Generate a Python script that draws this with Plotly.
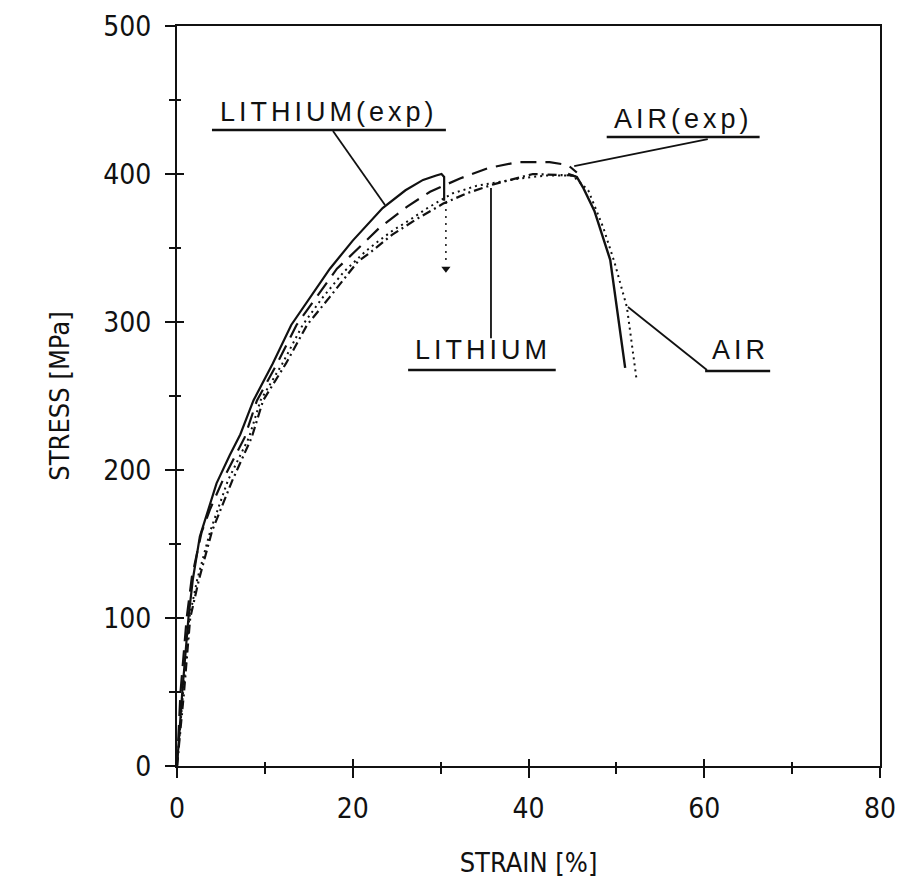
import plotly.graph_objects as go

# ---- data (strain %, stress MPa) ----
li_exp_strain = [0, 0.6, 1.3, 1.8, 2.6, 3.5, 4.5, 6.0, 7.2, 8.7, 10.9, 13.0, 15.1, 17.4, 20.0, 23.4, 26.0, 28.0, 29.5, 30.1, 30.4, 30.4]
li_exp_stress = [0, 50, 100, 126, 155, 172, 191, 210, 224, 247, 272, 298, 316, 336, 355, 377, 389, 396, 399, 400, 398, 382]

air_exp_strain = [0, 0.4, 1.1, 1.7, 2.8, 3.8, 5.2, 7.7, 9.1, 11.4, 13.6, 15.8, 18.2, 21.2, 23.1, 26.2, 28.8, 32.2, 35.4, 38.8, 42.4, 44.5, 45.5]
air_exp_stress = [0, 50, 100, 128, 158, 174, 193, 222, 247, 272, 298, 316, 336, 353, 364, 378, 388, 397, 404, 408, 408, 406, 401]

li_sim_strain = [0, 0.8, 1.5, 2.5, 4.0, 6.3, 8.5, 9.8, 12.4, 14.8, 17.4, 20.6, 22.0, 24.5, 27.4, 30.3, 33.0, 36.0, 40.5, 45.0, 45.5]
li_sim_stress = [0, 50, 100, 126, 159, 193, 222, 247, 272, 298, 317, 341, 347, 359, 370, 380, 387, 393, 400, 399, 398]

air_sim_strain = [0, 0.7, 1.4, 2.3, 3.8, 5.8, 8.2, 9.5, 12.0, 14.3, 16.5, 19.0, 21.5, 23.0, 24.6, 26.5, 28.5, 31.4, 34.1, 36.0, 39.0, 42.0, 45.0, 46.8, 48.5, 49.8, 51.2, 52.3]
air_sim_stress = [0, 50, 100, 126, 159, 193, 222, 247, 272, 298, 316, 334, 348, 355, 362, 369, 377, 387, 392, 394, 397, 399, 399, 389, 364, 340, 310, 261]

drop_strain = [44.5, 45.5, 46.2, 47.5, 49.3, 50.2, 51.0]
drop_stress = [400, 398, 391, 375, 342, 303, 269]

arrow_strain = [30.6, 30.6]
arrow_stress = [381, 340]

x_ticks = [0, 20, 40, 60, 80]
y_ticks = [0, 100, 200, 300, 400, 500]

# label texts and anchor points (data coords)
labels = [
    dict(text="LITHIUM(exp)", x=17.24, y=442, ul=(3.98, 30.6, 429.7), lead=((17.75, 429), (23.67, 379))),
    dict(text="AIR(exp)", x=57.64, y=437, ul=(48.9, 66.3, 425), lead=((60.4, 423.6), (45.2, 405.4))),
    dict(text="LITHIUM", x=34.77, y=281, ul=(26.3, 43.1, 267.6), lead=((35.73, 289), (35.73, 390.5))),
    dict(text="AIR", x=64.07, y=281, ul=(60.1, 67.5, 266.9), lead=((60.31, 267.6), (51.32, 310.1))),
]

BLACK = "#111111"
fig = go.Figure()

fig.add_trace(go.Scatter(x=li_exp_strain, y=li_exp_stress, mode="lines",
                         line=dict(color=BLACK, width=2.2), showlegend=False))
fig.add_trace(go.Scatter(x=air_exp_strain, y=air_exp_stress, mode="lines",
                         line=dict(color=BLACK, width=2.2, dash="16px,9px"), showlegend=False))
fig.add_trace(go.Scatter(x=li_sim_strain, y=li_sim_stress, mode="lines",
                         line=dict(color=BLACK, width=2.2, dash="9px,4px,2px,4px"), showlegend=False))
fig.add_trace(go.Scatter(x=air_sim_strain, y=air_sim_stress, mode="lines",
                         line=dict(color=BLACK, width=2, dash="2px,4px"), showlegend=False))
fig.add_trace(go.Scatter(x=drop_strain, y=drop_stress, mode="lines",
                         line=dict(color=BLACK, width=2.4), showlegend=False))
fig.add_trace(go.Scatter(x=arrow_strain, y=arrow_stress, mode="lines",
                         line=dict(color=BLACK, width=1.5, dash="2px,5px"), showlegend=False))
fig.add_trace(go.Scatter(x=[arrow_strain[-1]], y=[arrow_stress[-1] - 4], mode="markers",
                         marker=dict(symbol="triangle-down", size=8, color=BLACK), showlegend=False))
# empty trace to activate overlay axes (inner half of crossing ticks)
fig.add_trace(go.Scatter(x=[], y=[], xaxis="x2", yaxis="y2", showlegend=False))

label_font = dict(family="Liberation Sans, Arial, sans-serif", size=27, color=BLACK)
for lb in labels:
    fig.add_annotation(x=lb["x"], y=lb["y"], xref="x", yref="y", showarrow=False,
                       text='<span style="letter-spacing:4px">' + lb["text"] + "</span>",
                       font=label_font, xanchor="center", yanchor="middle")
    x0, x1, yu = lb["ul"]
    fig.add_shape(type="line", xref="x", yref="y", x0=x0, x1=x1, y0=yu, y1=yu,
                  line=dict(color=BLACK, width=2.5))
    (ax, ay), (bx, by) = lb["lead"]
    fig.add_shape(type="line", xref="x", yref="y", x0=ax, y0=ay, x1=bx, y1=by,
                  line=dict(color=BLACK, width=1.8))

tick_font = dict(family="DejaVu Sans Condensed, Liberation Sans Narrow, sans-serif", size=28, color=BLACK)
title_font = dict(family="DejaVu Sans Condensed, Liberation Sans Narrow, sans-serif", size=27, color=BLACK)

fig.update_layout(
    width=903, height=879,
    margin=dict(l=177, r=23, t=26, b=113),
    plot_bgcolor="white", paper_bgcolor="white",
    xaxis=dict(range=[0, 80], tickvals=x_ticks, ticks="outside", ticklen=10, tickwidth=2,
               tickcolor=BLACK, showline=True, linecolor=BLACK, linewidth=2, mirror=True,
               showgrid=False, zeroline=False, tickfont=tick_font, ticklabelstandoff=6,
               automargin=False,
               minor=dict(dtick=10, ticks="outside", ticklen=6, tickwidth=2, tickcolor=BLACK),
               title=dict(text="STRAIN [%]", font=title_font, standoff=30)),
    yaxis=dict(range=[0, 500], tickvals=y_ticks, ticks="outside", ticklen=10, tickwidth=2,
               tickcolor=BLACK, showline=True, linecolor=BLACK, linewidth=2, mirror=True,
               showgrid=False, zeroline=False, tickfont=tick_font, ticklabelstandoff=8,
               automargin=False,
               minor=dict(dtick=50, ticks="outside", ticklen=6, tickwidth=2, tickcolor=BLACK),
               title=dict(text="STRESS [MPa]", font=title_font, standoff=26)),
    xaxis2=dict(overlaying="x", matches="x", anchor="y2", side="bottom", range=[0, 80],
                tickvals=x_ticks, ticks="inside", ticklen=7, tickwidth=2, tickcolor=BLACK,
                showticklabels=False, showline=False, showgrid=False, zeroline=False,
                minor=dict(dtick=10, ticks="inside", ticklen=4, tickwidth=2, tickcolor=BLACK)),
    yaxis2=dict(overlaying="y", matches="y", anchor="x2", side="left", range=[0, 500],
                tickvals=y_ticks, ticks="inside", ticklen=7, tickwidth=2, tickcolor=BLACK,
                showticklabels=False, showline=False, showgrid=False, zeroline=False,
                minor=dict(dtick=50, ticks="inside", ticklen=4, tickwidth=2, tickcolor=BLACK)),
)

fig.write_html("out.html", config={"displayModeBar": False},
               post_script="document.body.style.margin='0';document.body.style.padding='0';")
